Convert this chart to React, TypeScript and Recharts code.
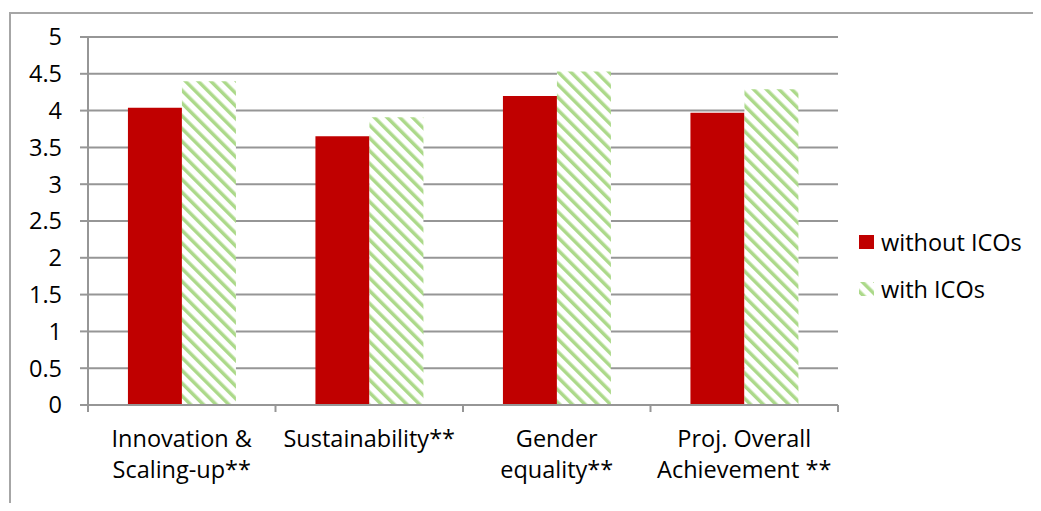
import React from 'react';
import { BarChart, Bar, XAxis, YAxis, CartesianGrid, Legend } from 'recharts';

// values
const categories = [
  'Innovation &\nScaling-up**',
  'Sustainability**',
  'Gender\nequality**',
  'Proj. Overall\nAchievement **',
];
const withoutICOs = [4.04, 3.65, 4.2, 3.97];
const withICOs = [4.4, 3.91, 4.53, 4.29];
const yTicks = [0, 0.5, 1, 1.5, 2, 2.5, 3, 3.5, 4, 4.5, 5];

const seriesNames = ['without ICOs', 'with ICOs'];

const data = categories.map((c, i) => ({
  name: c,
  without: withoutICOs[i],
  with: withICOs[i],
}));

const FONT = '"Open Sans", sans-serif';
const FS = 23.5;
const RED = '#c00000';
const GREEN = '#acd98a';
const GRID = '#969696';

const W = 1041;
const H = 511;
const M = { top: 37, right: 203, left: 0, bottom: 46 };
const plotLeft = 88;
const plotRight = W - M.right;
const band = (plotRight - plotLeft) / categories.length;

const CatTick = (props: any) => {
  const { x, y, payload, index } = props;
  const lines = String(payload.value).split('\n');
  const left = x - band / 2;
  return (
    <g>
      <line x1={left} y1={y} x2={left} y2={y + 7} stroke={GRID} strokeWidth={2} />
      {index === categories.length - 1 && (
        <line x1={x + band / 2} y1={y} x2={x + band / 2} y2={y + 7} stroke={GRID} strokeWidth={2} />
      )}
      <text x={x} y={y + 42} textAnchor="middle" fontFamily={FONT} fontSize={FS} fill="#000">
        {lines.map((l, i) => (
          <tspan key={i} x={x} dy={i === 0 ? 0 : 31}>{l}</tspan>
        ))}
      </text>
    </g>
  );
};

const LegendBox = () => (
  <div style={{ fontFamily: FONT, fontSize: FS, color: '#000' }}>
    <div style={{ display: 'flex', alignItems: 'center', height: 30 }}>
      <svg width={16} height={16} style={{ marginRight: 6 }}>
        <rect x={0} y={1} width={15} height={14} fill={RED} />
      </svg>
      {seriesNames[0]}
    </div>
    <div style={{ display: 'flex', alignItems: 'center', height: 30, marginTop: 17 }}>
      <svg width={16} height={16} style={{ marginRight: 6 }}>
        <rect x={0} y={1} width={15} height={14} fill="url(#hatch)" />
      </svg>
      {seriesNames[1]}
    </div>
  </div>
);

export default function App() {
  return (
    <div style={{ margin: -8, width: W, height: H, position: 'relative', overflow: 'hidden', background: '#fff' }}>
      <div
        style={{
          position: 'absolute',
          left: 9,
          top: 12,
          width: 1200,
          height: 700,
          borderLeft: '2px solid #a6a6a6',
          borderTop: '2px solid #a6a6a6',
        }}
      />
      <BarChart
        width={W}
        height={H}
        data={data}
        margin={M}
        barCategoryGap="21.3%"
        barGap={0}
        style={{ position: 'absolute', left: 0, top: 0 }}
      >
        <defs>
          <pattern id="hatch" patternUnits="userSpaceOnUse" width={9} height={9} patternTransform="rotate(-45)">
            <rect x={0} y={0} width={9} height={9} fill="#fff" />
            <rect x={0} y={0} width={3.5} height={9} fill={GREEN} />
          </pattern>
        </defs>
        <CartesianGrid vertical={false} stroke={GRID} strokeWidth={2} />
        <XAxis
          dataKey="name"
          interval={0}
          height={60}
          tickLine={false}
          tickSize={0}
          tickMargin={0}
          axisLine={{ stroke: GRID, strokeWidth: 2 }}
          tick={<CatTick />}
        />
        <YAxis
          width={88}
          domain={[0, 5]}
          ticks={yTicks}
          interval={0}
          tickSize={8}
          tickMargin={18}
          axisLine={{ stroke: GRID, strokeWidth: 2 }}
          tickLine={{ stroke: GRID, strokeWidth: 2 }}
          tick={{ fontFamily: FONT, fontSize: FS, fill: '#000' }}
        />
        <Bar dataKey="without" name={seriesNames[0]} fill={RED} isAnimationActive={false} />
        <Bar dataKey="with" name={seriesNames[1]} fill="url(#hatch)" isAnimationActive={false} />
        <Legend
          content={<LegendBox />}
          wrapperStyle={{ position: 'absolute', left: 859, top: 227, width: 180, height: 0, overflow: 'visible' }}
        />
      </BarChart>
    </div>
  );
}
